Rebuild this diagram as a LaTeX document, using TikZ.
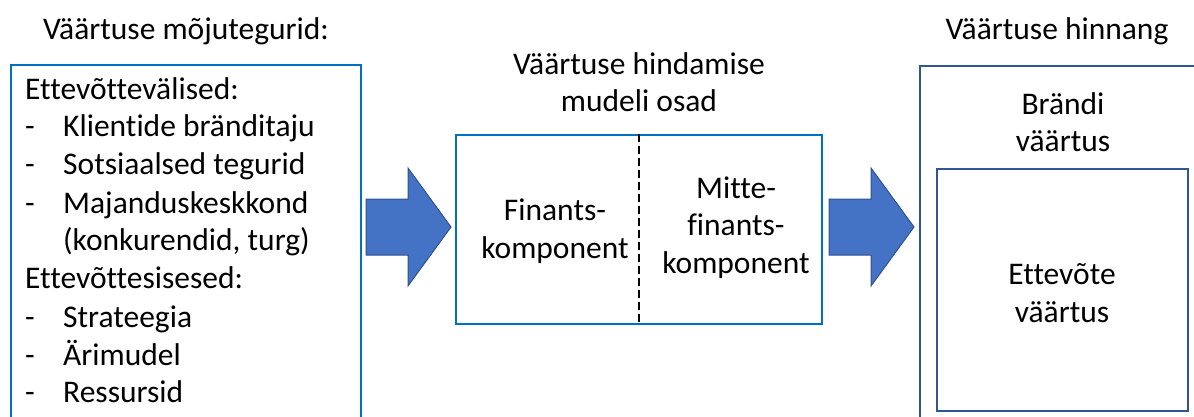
\documentclass[tikz,border=0pt]{standalone}
\usepackage{fontspec}
\setmainfont{Carlito}[Ligatures=NoCommon]
\usetikzlibrary{positioning}

\definecolor{boxblue}{RGB}{0,112,192}
\definecolor{darkblue}{RGB}{47,85,151}
\definecolor{arrowfill}{RGB}{68,114,196}
\definecolor{arrowline}{RGB}{47,82,143}

\tikzset{
  txt/.style={font=\fontsize{31.5}{37.5}\selectfont, inner sep=0pt, align=center},
  frame/.style={draw=#1, line width=2pt, inner sep=0pt},
  blockarr/.style={fill=arrowfill, draw=arrowline, line width=1pt, line join=miter}
}

\newcommand{\blockarrow}[1]{%
  \draw[blockarr] (#1,199) -- (#1+42,199) -- (#1+42,168) -- (#1+85,227)
    -- (#1+42,286) -- (#1+42,255) -- (#1,255) -- cycle;}

\begin{document}
\begin{tikzpicture}[x=1pt,y=-1pt]
\clip (0,0) rectangle (1194,417);

% left: factors
\node[txt, anchor=base] (factitle) at (186,40) {Väärtuse mõjutegurid:};
\node[frame=boxblue, anchor=north west, minimum width=350, minimum height=400]
  (factors) at (10,64) {};
\node[txt, anchor=base west] (external) at (25,100) {Ettevõttevälised:};
\node[txt, anchor=base west] (internal) at (25,288) {Ettevõttesisesed:};
\foreach \y/\t [count=\i] in {137/Klientide bränditaju, 175/Sotsiaalsed tegurid,
                               213/Majanduskeskkond, 327/Strateegia,
                               365/Ärimudel, 402/Ressursid}
  {\node[txt, anchor=base west] (dash\i) at (25,\y) {-};
   \node[txt, anchor=base west] (item\i) at (63,\y) {\t};}
\node[txt, anchor=base west] (itemnote) at (63,250) {(konkurendid, turg)};

\blockarrow{366}

% middle: model parts
\node[txt, anchor=base] (modtitle) at (639,112) {Väärtuse hindamise\\mudeli osad};
\node[frame=boxblue, minimum width=366, minimum height=189] (model) at (639,229.5) {};
\draw[line width=2pt, dash pattern=on 8pt off 4pt] (model.north) -- (model.south);
\node[txt, anchor=base] (fin) at (555,258) {Finants-\\komponent};
\node[txt, anchor=base] (nonfin) at (736,273) {Mitte-\\finants-\\komponent};

\blockarrow{829}

% right: valuation
\node[txt, anchor=base] (valtitle) at (1057,40) {Väärtuse hinnang};
\node[frame=darkblue, anchor=north west, minimum width=400, minimum height=400]
  (valuation) at (919,65) {};
\node[txt, anchor=base] (brand) at (1063,152) {Brändi\\väärtus};
\node[frame=darkblue, minimum width=251, minimum height=242] (company) at (1062.5,290) {};
\node[txt, anchor=base] (compval) at (1062,322) {Ettevõte\\väärtus};
\end{tikzpicture}
\end{document}
